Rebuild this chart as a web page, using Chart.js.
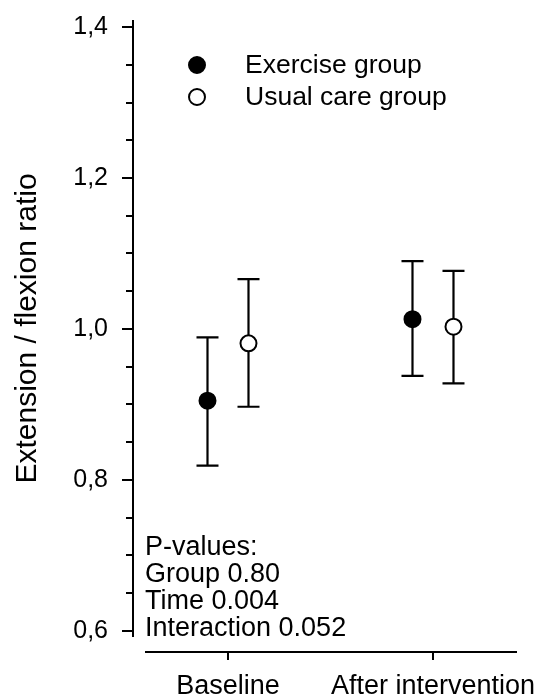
<!DOCTYPE html>
<html>
<head>
<meta charset="utf-8">
<script src="https://cdn.jsdelivr.net/npm/chart.js@4.4.0/dist/chart.umd.min.js"></script>
<style>
  html, body { margin: 0; padding: 0; background: #fff; }
  #wrap { width: 539px; height: 697px; }
</style>
</head>
<body>
<div id="wrap"><canvas id="chart"></canvas></div>
<script>
const categories = ['Baseline', 'After intervention'];

const exerciseMean = [0.905, 1.013];
const exerciseLow = [0.819, 0.938];
const exerciseHigh = [0.989, 1.090];

const usualMean = [0.981, 1.003];
const usualLow = [0.897, 0.928];
const usualHigh = [1.066, 1.077];

const yMajorTicks = [0.6, 0.8, 1.0, 1.2, 1.4];
const yMinorStep = 0.05;

const pValueLines = ['P-values:', 'Group 0.80', 'Time 0.004', 'Interaction 0.052'];

const FONT = "'Liberation Sans', Arial, sans-serif";
const shift = 0.1;

const errorBars = {
  id: 'errorBars',
  beforeDatasetsDraw(chart) {
    const { ctx } = chart;
    const y = chart.scales.y;
    ctx.save();
    ctx.strokeStyle = '#000';
    ctx.lineWidth = 2.2;
    chart.data.datasets.forEach((ds, di) => {
      const meta = chart.getDatasetMeta(di);
      meta.data.forEach((pt, i) => {
        const top = y.getPixelForValue(ds.high[i]);
        const bot = y.getPixelForValue(ds.low[i]);
        ctx.beginPath();
        ctx.moveTo(pt.x, top); ctx.lineTo(pt.x, bot);
        ctx.moveTo(pt.x - 11, top); ctx.lineTo(pt.x + 11, top);
        ctx.moveTo(pt.x - 11, bot); ctx.lineTo(pt.x + 11, bot);
        ctx.stroke();
      });
    });
    ctx.restore();
  }
};

const axesAndNotes = {
  id: 'axesAndNotes',
  afterDraw(chart) {
    const { ctx, chartArea: a } = chart;
    const y = chart.scales.y, x = chart.scales.x;
    ctx.save();
    ctx.strokeStyle = '#000';
    ctx.lineWidth = 2;
    // y axis
    ctx.beginPath();
    ctx.moveTo(a.left, a.top); ctx.lineTo(a.left, a.bottom);
    for (let v = 0.6; v <= 1.4001; v += yMinorStep) {
      const py = Math.round(y.getPixelForValue(v));
      const major = yMajorTicks.some(t => Math.abs(t - v) < 1e-6);
      ctx.moveTo(a.left - (major ? 11 : 7), py); ctx.lineTo(a.left, py);
    }
    // x axis (detached)
    const ly = a.bottom + 15;
    ctx.moveTo(a.left + 12, ly); ctx.lineTo(a.right, ly);
    categories.forEach((c, i) => {
      const px = x.getPixelForValue(i + 1);
      ctx.moveTo(px, ly); ctx.lineTo(px, ly + 8);
    });
    ctx.stroke();

    // legend
    ctx.fillStyle = '#000';
    ctx.font = '26.5px ' + FONT;
    ctx.textBaseline = 'middle';
    chart.data.datasets.forEach((ds, di) => {
      const cy = 65 + di * 32;
      ctx.beginPath();
      ctx.arc(197, cy, 8, 0, Math.PI * 2);
      ctx.fillStyle = ds.pointBackgroundColor;
      ctx.fill();
      ctx.stroke();
      ctx.fillStyle = '#000';
      ctx.fillText(ds.label, 245, cy + 1);
    });

    // p-values
    ctx.font = '27px ' + FONT;
    ctx.textBaseline = 'alphabetic';
    pValueLines.forEach((t, i) => ctx.fillText(t, a.left + 12, 555 + i * 27));
    ctx.restore();
  }
};

const makeSet = (label, mean, low, high, off, fill) => ({
  label,
  data: mean.map((v, i) => ({ x: i + 1 + off, y: v })),
  low, high,
  pointRadius: 8,
  pointHoverRadius: 8,
  pointBorderWidth: 2,
  pointBorderColor: '#000',
  pointBackgroundColor: fill,
  showLine: false
});

const noPad = s => { s.paddingLeft = 0; s.paddingRight = 0; s.paddingTop = 0; s.paddingBottom = 0; };

new Chart(document.getElementById('chart'), {
  type: 'scatter',
  data: {
    datasets: [
      makeSet('Exercise group', exerciseMean, exerciseLow, exerciseHigh, -shift, '#000'),
      makeSet('Usual care group', usualMean, usualLow, usualHigh, shift, '#fff')
    ]
  },
  options: {
    responsive: true,
    maintainAspectRatio: false,
    animation: false,
    layout: { padding: { left: 0, right: 22, top: 20, bottom: 0 } },
    plugins: { legend: { display: false }, tooltip: { enabled: false } },
    scales: {
      x: {
        type: 'linear',
        min: 0.5366,
        max: 2.4098,
        grid: { display: false, drawTicks: false },
        border: { display: false },
        afterBuildTicks: s => { s.ticks = categories.map((c, i) => ({ value: i + 1 })); },
        afterFit: s => { s.height = 60; noPad(s); },
        ticks: {
          padding: 33,
          color: '#000',
          font: { family: FONT, size: 27 },
          callback: v => categories[Math.round(v) - 1]
        }
      },
      y: {
        min: 0.592,
        max: 1.4093,
        grid: { display: false, drawTicks: false },
        border: { display: false },
        afterBuildTicks: s => { s.ticks = yMajorTicks.map(v => ({ value: v })); },
        afterFit: s => { s.width = 133; noPad(s); },
        ticks: {
          padding: 25,
          color: '#000',
          font: { family: FONT, size: 25 },
          callback: v => v.toFixed(1).replace('.', ',')
        },
        title: {
          display: true,
          text: 'Extension / flexion ratio',
          color: '#000',
          font: { family: FONT, size: 30 },
          padding: { top: 10, bottom: 0 }
        }
      }
    }
  },
  plugins: [errorBars, axesAndNotes]
});
</script>
</body>
</html>
